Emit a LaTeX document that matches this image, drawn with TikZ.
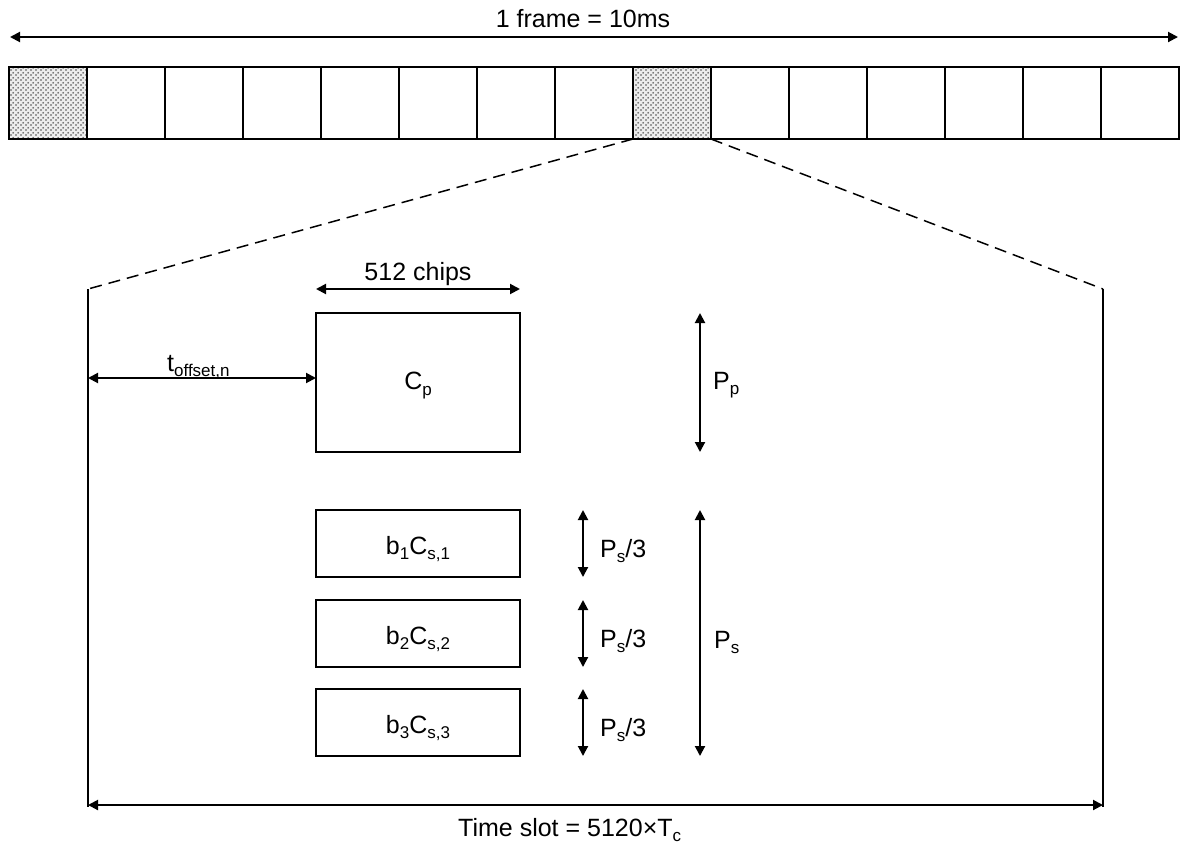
\documentclass[tikz,border=0pt]{standalone}
\usepackage{fontspec}
\setmainfont{Liberation Sans}
\usetikzlibrary{arrows.meta,patterns,patterns.meta}
\newcommand\lowtxt[1]{\raisebox{-0.45ex}{\fontsize{17}{17}\selectfont #1}}
\tikzdeclarepattern{
  name=hexdots,
  type=uncolored,
  bottom left={(0pt,0pt)},
  top right={(5pt,5pt)},
  tile size={(5pt,5pt)},
  code={\pgfpathcircle{\pgfpoint{1.25pt}{1.25pt}}{1.05pt}\pgfusepath{fill}
        \pgfpathcircle{\pgfpoint{3.75pt}{3.75pt}}{1.05pt}\pgfusepath{fill}}
}
\begin{document}
\begin{tikzpicture}[x=1pt,y=-1pt,
  every node/.style={font=\fontsize{25}{29}\selectfont},
  cell/.style={draw, line width=2pt, minimum width=78pt, minimum height=72pt, inner sep=0pt, outer sep=0pt},
  shadecell/.style={cell, preaction={fill=gray!15}, pattern=hexdots, pattern color=black!70},
  box/.style={draw, line width=1.5pt, minimum width=204pt, inner sep=0pt, outer sep=0pt, text depth=0pt},
  dim/.style={{Triangle[length=10pt,width=10pt]}-{Triangle[length=10pt,width=10pt]}, line width=2pt},
  dashline/.style={line width=1.5pt, dash pattern=on 12pt off 7pt},
  slotline/.style={line width=1.5pt},
  lab/.style={inner sep=0pt}
]
\useasboundingbox (0,0) rectangle (1180,846);
% frame
\coordinate (fl) at (10,37);
\coordinate (fr) at (1178,37);
\draw[dim] (fl) -- (fr);
\node[lab, anchor=base] (ftxt) at (583,27) {1 frame = 10ms};
% cells
\foreach \i/\s in {1/shadecell,2/cell,3/cell,4/cell,5/cell,6/cell,7/cell,8/cell,9/shadecell,10/cell,11/cell,12/cell,13/cell,14/cell,15/cell}
  \node[\s] (c\i) at ({9+78*(\i-0.5)},103) {};
% slot outline
\coordinate (stl) at (88,289);
\coordinate (str) at (1103,289);
\coordinate (sbl) at (88,807);
\coordinate (sbr) at (1103,807);
\draw[dashline] (c9.south west) -- (stl);
\draw[dashline] (c9.south east) -- (str);
\draw[slotline] (stl) -- (sbl);
\draw[slotline] (str) -- (sbr);
\coordinate (tl) at (88,805);
\coordinate (tr) at (1103,805);
\draw[dim] (tl) -- (tr);
\node[lab, anchor=base west] (tslot) at (458,836) {Time slot = 5120×T\lowtxt{c}};
% boxes
\node[box, minimum height=139pt, text height=14pt] (cp) at (418,382.5) {C\lowtxt{p}};
\node[box, minimum height=67pt, text height=21pt] (b1) at (418,543.5) {b\lowtxt{1}C\lowtxt{s,1}};
\node[box, minimum height=67pt, text height=21pt] (b2) at (418,633.5) {b\lowtxt{2}C\lowtxt{s,2}};
\node[box, minimum height=67pt, text height=21pt] (b3) at (418,722.5) {b\lowtxt{3}C\lowtxt{s,3}};
% 512 chips
\draw[dim] ([yshift=24pt]cp.north west) -- ([yshift=24pt]cp.north east);
\node[lab, anchor=base] (chips) at (418,280) {512 chips};
% offset
\coordinate (ol) at (88,378);
\draw[dim] (ol) -- (ol -| cp.west);
\node[lab, anchor=base west] (offs) at (167,371) {t\lowtxt{offset,n}};
% Pp
\coordinate (px) at (700,0);
\draw[dim] (px |- cp.north) -- (px |- cp.south);
\node[lab, anchor=base west] (pplab) at (713,389) {P\lowtxt{p}};
% Ps/3
\coordinate (qx) at (583,0);
\draw[dim] (qx |- b1.north) -- (qx |- b1.south);
\draw[dim] (qx |- b2.north) -- (qx |- b2.south);
\draw[dim] (qx |- b3.north) -- (qx |- b3.south);
\node[lab, anchor=base west] (q1) at (600,557) {P\lowtxt{s}/3};
\node[lab, anchor=base west] (q2) at (600,647) {P\lowtxt{s}/3};
\node[lab, anchor=base west] (q3) at (600,736) {P\lowtxt{s}/3};
% Ps
\draw[dim] (px |- b1.north) -- (px |- b3.south);
\node[lab, anchor=base west] (pslab) at (714,648) {P\lowtxt{s}};
\end{tikzpicture}
\end{document}
